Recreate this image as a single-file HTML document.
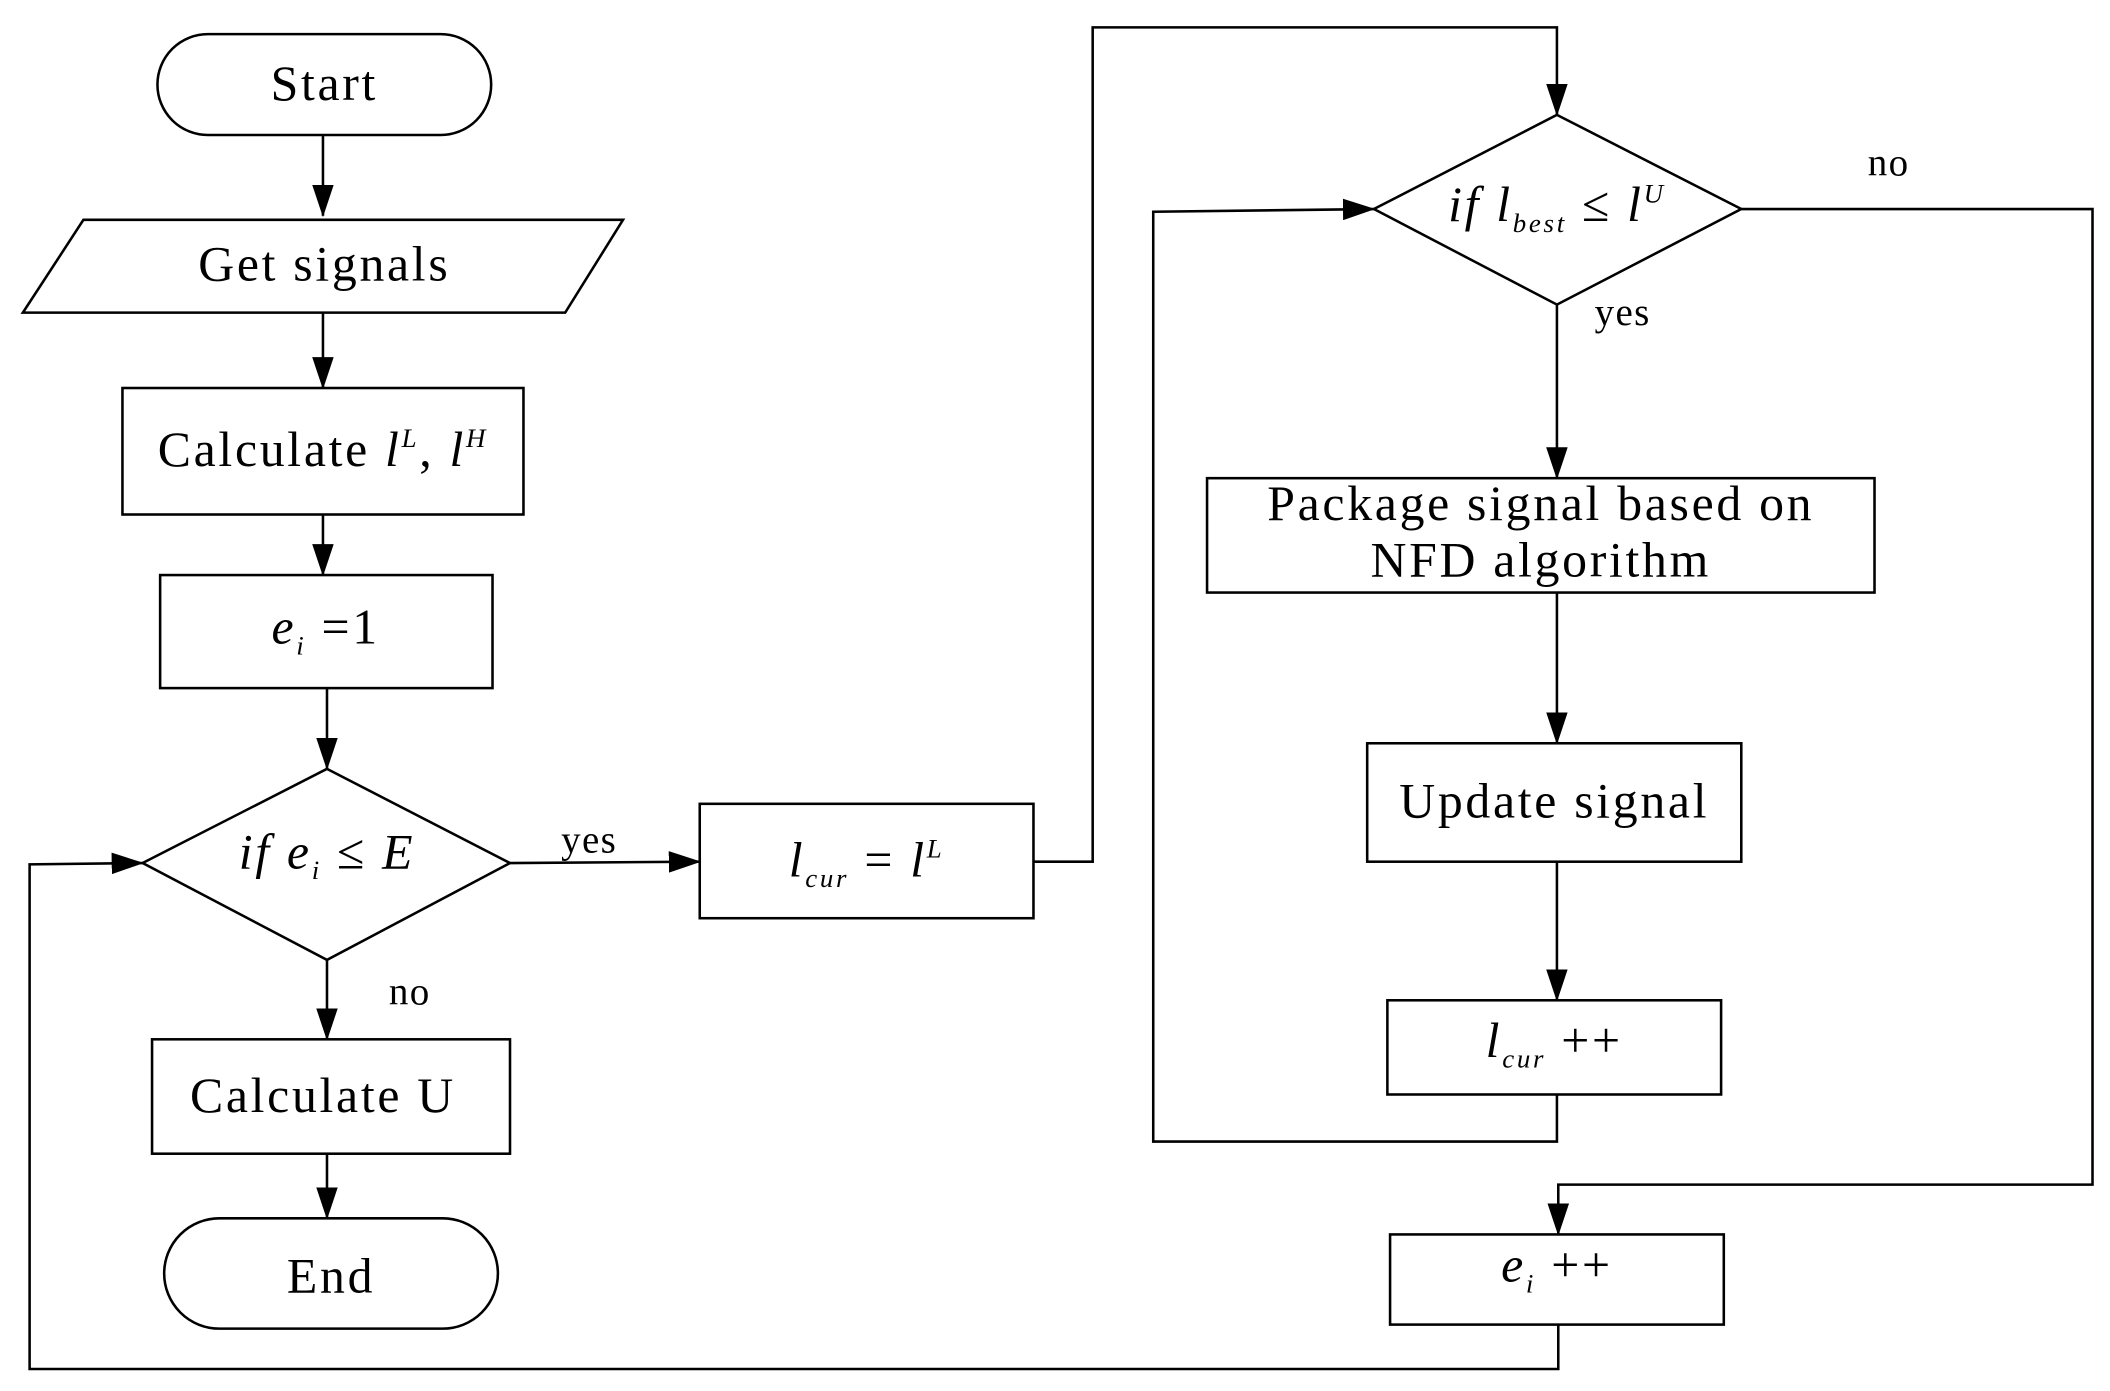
<!DOCTYPE html>
<html><head><meta charset="utf-8"><style>html,body{margin:0;padding:0;background:#fff}svg{display:block}</style></head>
<body>
<svg width="2110" height="1391" viewBox="0 0 1568 1033" xmlns="http://www.w3.org/2000/svg" font-family="'Liberation Serif', serif" font-size="37" letter-spacing="2" fill="#000">
<defs><marker id="b" markerWidth="24" markerHeight="16" refX="23" refY="8" orient="auto" markerUnits="userSpaceOnUse"><path d="M0,0 L24,8 L0,16 Z" fill="#000"/></marker></defs>
<g stroke="#000" stroke-width="1.9" fill="none">
<rect x="117" y="25" width="248" height="75" rx="37.5"/>
<polygon points="62,163 463,163 420,232 17,232"/>
<rect x="91" y="288" width="298" height="94"/>
<rect x="119" y="427" width="247" height="84"/>
<polygon points="243,571 379,641 243,713 106,641"/>
<rect x="520" y="597" width="248" height="85"/>
<polygon points="1157,85 1294,155 1157,226 1021,155"/>
<rect x="897" y="355" width="496" height="85"/>
<rect x="1016" y="552" width="278" height="88"/>
<rect x="1031" y="743" width="248" height="70"/>
<rect x="1033" y="917" width="248" height="67"/>
<rect x="113" y="772" width="266" height="85"/>
<rect x="122" y="905" width="248" height="82" rx="41"/>
<g marker-end="url(#b)">
<line x1="240" y1="100" x2="240" y2="160"/>
<line x1="240" y1="232" x2="240" y2="288"/>
<line x1="240" y1="382" x2="240" y2="427"/>
<line x1="243" y1="511" x2="243" y2="571"/>
<line x1="379" y1="641" x2="520" y2="640"/>
<polyline points="768,640 812,640 812,20 1157,20 1157,85"/>
<polyline points="1294,155 1555,155 1555,880 1158,880 1158,917"/>
<line x1="1157" y1="226" x2="1157" y2="355"/>
<line x1="1157" y1="440" x2="1157" y2="552"/>
<line x1="1157" y1="640" x2="1157" y2="743"/>
<polyline points="1157,813 1157,848 857,848 857,157 1021,155"/>
<polyline points="1158,984 1158,1017 22,1017 22,642 106,641"/>
<line x1="243" y1="713" x2="243" y2="772"/>
<line x1="243" y1="857" x2="243" y2="905"/>
</g></g>
<g text-anchor="middle">
<text x="241" y="74">Start</text>
<text x="241" y="208">Get signals</text>
<text x="240" y="346">Calculate  <tspan font-style="italic">l</tspan><tspan font-style="italic" font-size="20" dy="-14">L</tspan><tspan dy="14">, </tspan><tspan font-style="italic">l</tspan><tspan font-style="italic" font-size="20" dy="-14">H</tspan></text>
<text x="242" y="478"><tspan font-style="italic">e</tspan><tspan font-style="italic" font-size="20" dy="8">i</tspan><tspan dy="-8"> =1</tspan></text>
<text x="243" y="645"><tspan font-style="italic">if  e</tspan><tspan font-style="italic" font-size="20" dy="8">i</tspan><tspan dy="-8"> ≤ </tspan><tspan font-style="italic">E</tspan></text>
<text x="644" y="651"><tspan font-style="italic">l</tspan><tspan font-style="italic" font-size="20" dy="8">cur</tspan><tspan dy="-8"> = </tspan><tspan font-style="italic">l</tspan><tspan font-style="italic" font-size="20" dy="-14">L</tspan></text>
<text x="1157" y="164"><tspan font-style="italic">if  l</tspan><tspan font-style="italic" font-size="20" dy="8">best</tspan><tspan dy="-8"> ≤ </tspan><tspan font-style="italic">l</tspan><tspan font-style="italic" font-size="20" dy="-14">U</tspan></text>
<text x="1145" y="386">Package signal based on</text>
<text x="1145" y="428">NFD algorithm</text>
<text x="1155" y="607">Update signal</text>
<text x="1155" y="785"><tspan font-style="italic">l</tspan><tspan font-style="italic" font-size="20" dy="8">cur</tspan><tspan dy="-8"> ++</tspan></text>
<text x="1157" y="952"><tspan font-style="italic">e</tspan><tspan font-style="italic" font-size="20" dy="8">i</tspan><tspan dy="-8"> ++</tspan></text>
<text x="240" y="826">Calculate U</text>
<text x="246" y="960">End</text>
</g>
<g font-size="29" letter-spacing="1">
<text x="417" y="633">yes</text>
<text x="289" y="746">no</text>
<text x="1185" y="241">yes</text>
<text x="1388" y="130">no</text>
</g>
</svg>
</body></html>
